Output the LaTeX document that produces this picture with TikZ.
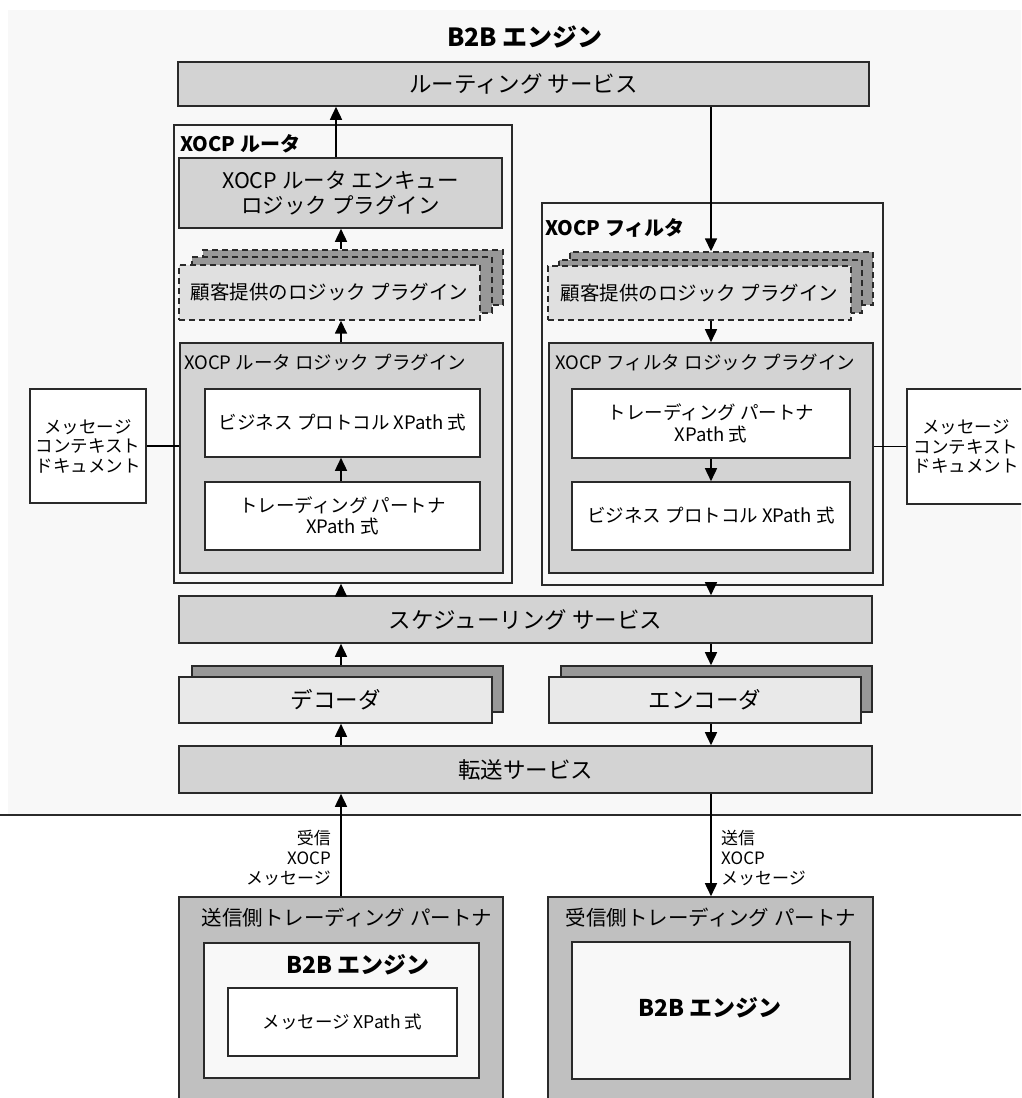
\documentclass[tikz,border=0pt]{standalone}
\usepackage{fontspec}
\setmainfont{Noto Sans CJK JP}
\usetikzlibrary{arrows.meta}
\definecolor{bgc}{HTML}{F8F8F8}
\definecolor{svc}{HTML}{D3D3D3}
\definecolor{lite}{HTML}{E0E0E0}
\definecolor{liter}{HTML}{E9E9E9}
\definecolor{drk}{HTML}{989898}
\definecolor{ptn}{HTML}{C0C0C0}
\definecolor{edge}{HTML}{2A2A2A}
\tikzset{
  base/.style={draw=edge, line width=1.6pt, rectangle, inner sep=0pt, align=center},
  svcbox/.style={base, fill=svc, font=\fontsize{22.5}{26}\selectfont},
  outerbox/.style={base, fill=bgc, line width=1.4pt},
  plugbox/.style={base, fill=svc},
  whitebox/.style={base, fill=white, font=\fontsize{18.5}{21.5}\selectfont},
  docbox/.style={base, fill=white, font=\fontsize{17.5}{19.5}\selectfont},
  stackback/.style={base, fill=drk, dash pattern=on 6pt off 4pt, line width=1.4pt},
  stackfront/.style={base, fill=lite, dash pattern=on 6pt off 4pt, line width=1.4pt, font=\fontsize{19.5}{22}\selectfont},
  codback/.style={base, fill=drk},
  codfront/.style={base, fill=liter, font=\fontsize{22.5}{26}\selectfont},
  boldlab/.style={inner sep=0pt, font=\bfseries\fontsize{20}{24}\selectfont},
  lab/.style={inner sep=0pt, font=\fontsize{18.5}{21}\selectfont},
  msglab/.style={inner sep=0pt, font=\fontsize{17}{20}\selectfont},
  ptnbox/.style={base, fill=ptn},
  arr/.style={draw=black, line width=1.6pt, -{Triangle[width=12pt,length=13pt]}},
  conn/.style={draw=black, line width=1.6pt},
}
\begin{document}
\begin{tikzpicture}[x=1pt,y=-1pt]
\useasboundingbox (0,0) rectangle (1021,1098);
\clip (0,0) rectangle (1021,1098);
% background
\fill[bgc] (8,10) rectangle (1021,815);
\draw[edge, line width=1.5pt] (0,815) -- (1021,815);

\coordinate (xr0) at (336,0);
\coordinate (xr) at (341,0);
\coordinate (xf) at (711,0);

\node[boldlab, font=\bfseries\fontsize{25}{29}\selectfont] (title) at (525,37) {B2B エンジン};
\node[svcbox, minimum width=691, minimum height=44] (routing) at (523.5,84) {ルーティング サービス};

% XOCP router
\node[outerbox, minimum width=338, minimum height=458] (router) at (343,354) {};
\node[boldlab, anchor=west] (routerlab) at (180,144) {XOCP ルータ};
\node[svcbox, font=\fontsize{21.5}{25}\selectfont, minimum width=323, minimum height=70] (enq) at (340.5,193) {XOCP ルータ エンキュー\\ロジック プラグイン};
\node[stackback, minimum width=300, minimum height=55] (rs3) at (353,277.5) {};
\node[stackback, minimum width=300, minimum height=56] (rs2) at (342,285) {};
\node[stackfront, minimum width=301, minimum height=55] (rs1) at (329.5,292.5) {顧客提供のロジック プラグイン};
\node[plugbox, minimum width=323, minimum height=230] (rlogic) at (341.5,458) {};
\node[lab, anchor=west] (rlogiclab) at (184,362) {XOCP ルータ ロジック プラグイン};
\node[whitebox, minimum width=275, minimum height=68] (rbp) at (342.5,423) {ビジネス プロトコル XPath 式};
\node[whitebox, minimum width=275, minimum height=68] (rtp) at (342.5,516) {トレーディング パートナ\\XPath 式};
\node[docbox, minimum width=116, minimum height=114] (ldoc) at (88,446) {メッセージ\\コンテキスト\\ドキュメント};

% XOCP filter
\node[outerbox, minimum width=341, minimum height=382] (filter) at (712.5,394) {};
\node[boldlab, anchor=west] (filterlab) at (545,228) {XOCP フィルタ};
\node[stackback, minimum width=303, minimum height=53] (fs3) at (721.5,278.5) {};
\node[stackback, minimum width=303, minimum height=53] (fs2) at (710.5,286.5) {};
\node[stackfront, minimum width=303, minimum height=54] (fs1) at (699.5,293) {顧客提供のロジック プラグイン};
\node[plugbox, minimum width=324, minimum height=230] (flogic) at (711,458) {};
\node[lab, anchor=west] (flogiclab) at (555,362) {XOCP フィルタ ロジック プラグイン};
\node[whitebox, minimum width=278, minimum height=69] (ftp) at (711,423.5) {トレーディング パートナ\\XPath 式};
\node[whitebox, minimum width=278, minimum height=68] (fbp) at (711,516) {ビジネス プロトコル XPath 式};
\node[docbox, minimum width=118, minimum height=115] (rdoc) at (966,446.5) {メッセージ\\コンテキスト\\ドキュメント};

% services
\node[svcbox, minimum width=693, minimum height=47] (sched) at (525.5,619.5) {スケジューリング サービス};
\node[codback, minimum width=311, minimum height=46] (decb) at (347.5,689) {};
\node[codfront, minimum width=313, minimum height=46] (decf) at (335.5,700) {デコーダ};
\node[codback, minimum width=311, minimum height=46] (encb) at (716.5,689) {};
\node[codfront, minimum width=312, minimum height=46] (encf) at (705,700) {エンコーダ};
\node[svcbox, minimum width=693, minimum height=47] (transport) at (525.5,769.5) {転送サービス};

% partners
\node[ptnbox, minimum width=324, minimum height=213] (sendp) at (341,1003.5) {};
\node[lab, font=\fontsize{20.5}{24}\selectfont] (sendlab) at (347,918) {送信側トレーディング パートナ};
\node[base, fill=bgc, minimum width=275, minimum height=135] (sendin) at (341.5,1010.5) {};
\node[boldlab, font=\bfseries\fontsize{23}{27}\selectfont] (sendb2b) at (358,965) {B2B エンジン};
\node[whitebox, font=\fontsize{17.5}{20}\selectfont, minimum width=229, minimum height=68] (msgx) at (342.5,1022) {メッセージ XPath 式};
\node[ptnbox, minimum width=325, minimum height=213] (recvp) at (710.5,1003.5) {};
\node[lab, font=\fontsize{20.5}{24}\selectfont] (recvlab) at (711,918) {受信側トレーディング パートナ};
\node[base, fill=bgc, minimum width=278, minimum height=137] (recvin) at (711,1010.5) {};
\node[boldlab, font=\bfseries\fontsize{23}{27}\selectfont] (recvb2b) at (710,1008) {B2B エンジン};

\node[msglab, anchor=east, align=right] (inlab) at (331,858) {受信\\XOCP\\メッセージ};
\node[msglab, anchor=west, align=left] (outlab) at (721,858) {送信\\XOCP\\メッセージ};

% connectors
\draw[arr] (enq.north -| xr0) -- (routing.south -| xr0);
\draw[arr] (rs3.north -| xr) -- (enq.south -| xr);
\draw[arr] (rlogic.north -| xr) -- (rs1.south -| xr);
\draw[arr] (rtp.north -| xr) -- (rbp.south -| xr);
\draw[arr] (sched.north -| xr) -- (router.south -| xr);
\draw[arr] (decb.north -| xr) -- (sched.south -| xr);
\draw[arr] (transport.north -| xr) -- (decf.south -| xr);
\draw[arr] (sendp.north -| xr) -- (transport.south -| xr);
\draw[arr] (routing.south -| xf) -- (fs3.north -| xf);
\draw[arr] (fs1.south -| xf) -- (flogic.north -| xf);
\draw[arr] (ftp.south -| xf) -- (fbp.north -| xf);
\draw[arr] (filter.south -| xf) -- (sched.north -| xf);
\draw[arr] (sched.south -| xf) -- (encb.north -| xf);
\draw[arr] (encf.south -| xf) -- (transport.north -| xf);
\draw[arr] (transport.south -| xf) -- (recvp.north -| xf);
\draw[conn] (ldoc.east) -- (rlogic.west |- ldoc.east);
\draw[conn] (rdoc.west) -- (flogic.east |- rdoc.west);
\end{tikzpicture}
\end{document}
